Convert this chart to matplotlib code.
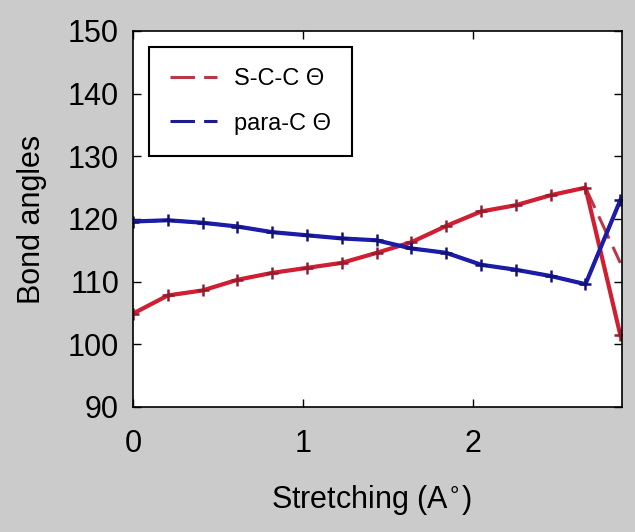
import matplotlib
matplotlib.use("Agg")
import matplotlib.pyplot as plt

plt.rcParams['font.family'] = ['Liberation Sans', 'DejaVu Sans']

# bond stretching (Angstrom) and the two bond angles (degrees)
stretch = [0.0, 0.205, 0.41, 0.615, 0.82, 1.025, 1.23, 1.435, 1.64, 1.845,
           2.05, 2.255, 2.46, 2.665, 2.87]
scc_angle = [104.9, 107.8, 108.6, 110.3, 111.4, 112.2, 113.0, 114.6, 116.3, 118.9,
             121.2, 122.2, 123.8, 125.0, 101.5]
scc_dashed = [104.9, 107.8, 108.6, 110.3, 111.4, 112.2, 113.0, 114.6, 116.3, 118.9,
              121.2, 122.2, 123.8, 125.0, 113.0]
parac_angle = [119.6, 119.8, 119.4, 118.8, 117.9, 117.4, 116.9, 116.6, 115.3, 114.6,
               112.7, 111.9, 110.9, 109.6, 123.0]
labels = ["S-C-C \u0398", "para-C \u0398"]

red = '#d01f33'
blue = '#1c1ca8'
fs = 22

fig = plt.figure(figsize=(6.35, 5.32), dpi=100, facecolor='#cbcbcb')
ax = fig.add_axes([133 / 635, 1 - 407 / 532, 489 / 635, 376 / 532])

# dashed curves (used for the legend), solid curves with markers on top
h1, = ax.plot(stretch, scc_dashed, color='#b83848', lw=2.2, dashes=(8, 3), label=labels[0])
h2, = ax.plot(stretch, parac_angle, color='#1c1c8c', lw=2.2, dashes=(8, 3), label=labels[1])
ax.plot(stretch, scc_angle, color=red, lw=3, marker='+', ms=9, mew=1.8, mec='#941c2e')
ax.plot(stretch, parac_angle, color=blue, lw=3, marker='+', ms=9, mew=1.8, mec='#12127a')

ax.set_xlim(0, 2.88)
ax.set_ylim(90, 150)
ax.set_xticks([0, 1, 2])
ax.set_yticks(range(90, 151, 10))
ax.tick_params(direction='in', length=6, width=1, top=True, right=True, labelsize=fs)
ax.tick_params(axis='x', pad=16)
ax.tick_params(axis='y', pad=10)
for sp in ax.spines.values():
    sp.set_linewidth(1.2)

ax.set_xlabel("Stretching (A$^{\\circ}$)", fontsize=fs)
ax.set_ylabel("Bond angles", fontsize=fs)
ax.xaxis.set_label_coords(0.487, -0.247)
ax.yaxis.set_label_coords(-0.206, 0.5)
ax.xaxis.label.set_va('center')
ax.yaxis.label.set_va('center')

leg = ax.legend(handles=[h1, h2], loc='upper left', bbox_to_anchor=(16 / 489, 1 - 16 / 376),
                borderaxespad=0, fontsize=17, handlelength=2.0, handletextpad=0.7,
                labelspacing=0.95, borderpad=0.9, fancybox=False, framealpha=1)
leg.get_frame().set_edgecolor('black')
leg.get_frame().set_linewidth(1.5)

fig.savefig("out.png", dpi=100, facecolor=fig.get_facecolor())
